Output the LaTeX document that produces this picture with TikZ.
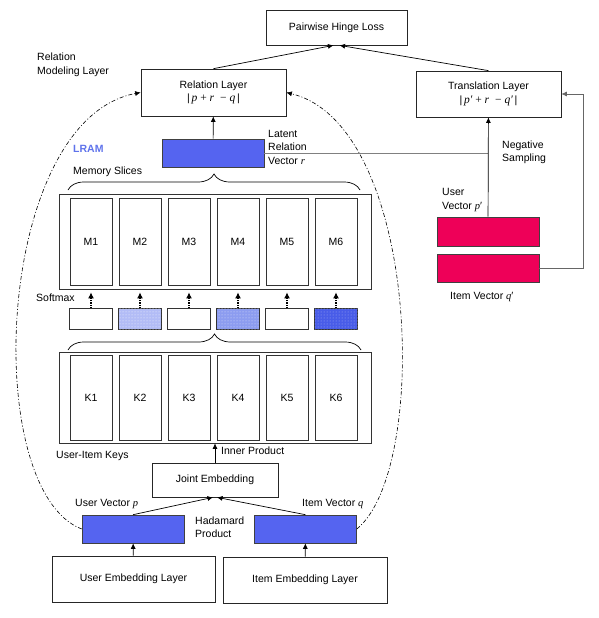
\documentclass[tikz,border=0pt]{standalone}
\usepackage{fontspec}
\setmainfont{Liberation Sans}
\newfontfamily\serifit{Liberation Serif}
\usetikzlibrary{arrows.meta,decorations.pathreplacing,patterns}
\pgfdeclarelayer{background layer}
\pgfsetlayers{background layer,main}
\definecolor{vecblue}{RGB}{85,100,240}
\definecolor{vecred}{RGB}{238,0,88}
\definecolor{lramblue}{RGB}{95,115,235}
\definecolor{wlight}{RGB}{178,188,246}
\definecolor{wmid}{RGB}{140,156,240}
\definecolor{wdark}{RGB}{72,92,232}
\tikzstyle{blk}=[draw=black!85,line width=0.7pt,fill=white,inner sep=0pt,align=center]
\tikzstyle{bluevec}=[draw=black!75,line width=0.6pt,fill=vecblue,minimum width=102pt,minimum height=28pt]
\tikzstyle{redvec}=[draw=black!75,line width=0.6pt,fill=vecred,minimum width=102pt,minimum height=28pt]
\tikzstyle{slot}=[draw=black!80,line width=0.7pt,minimum width=42pt,minimum height=87pt]
\tikzstyle{wbox}=[draw=black!80,line width=0.7pt,minimum width=43pt,minimum height=21pt]
\tikzstyle{wlow}=[wbox,fill=wlight,postaction={pattern=dots,pattern color=white!85!wlight}]
\tikzstyle{wmed}=[wbox,fill=wmid,postaction={pattern=dots,pattern color=white!70!wmid}]
\tikzstyle{whigh}=[wbox,fill=wdark,postaction={pattern=dots,pattern color=white!50!wdark}]
\tikzstyle{lbl}=[anchor=west,inner sep=0pt,align=left]
\tikzstyle{arr}=[-{Latex[length=5.5pt,width=5pt]},line width=0.7pt]
\tikzstyle{dotarr}=[-{Latex[length=6pt,width=6pt]},densely dotted,line width=1.3pt]
\tikzstyle{curly}=[decorate,decoration={brace,amplitude=16pt},line width=0.7pt]
\tikzstyle{chain}=[arr,line width=0.6pt,dash pattern=on 4pt off 2pt on 1pt off 2pt]
\newcommand{\vv}[1]{{\serifit\itshape #1}}
\newcommand{\rform}[3]{|\,{\fontsize{11.5}{13}\serifit\textit{#1} + \textit{#2}\; − \textit{#3}}\,|}

\begin{document}
\begin{tikzpicture}[x=1pt,y=-1pt,font=\fontsize{10.5}{13.5}\selectfont]
			\useasboundingbox (0,0) rectangle (599,618);
			
			\node (loss) at (336.5,27.5) [blk,minimum width=141pt,minimum height=35pt] {Pairwise Hinge Loss};
			\node (rel) at (213.5,92.5) [blk,minimum width=145pt,minimum height=47pt] {Relation Layer\\\rform{p}{r}{q}};
			\node (trans) at (488.5,94) [blk,minimum width=145pt,minimum height=46pt] {Translation Layer\\\rform{p′}{r}{q′}};
			
			\node (rvec) at (213,153) [bluevec] {};
			\node (pvec2) at (488,231.5) [redvec,minimum height=29pt] {};
			\node (qvec2) at (488,268) [redvec] {};
			
			\node (mem) at (215,241.5) [draw=black!80,line width=0.7pt,minimum width=312pt,minimum height=95pt] {};
			\foreach \i in {1,...,6}
				\node (m\i) at (42+49*\i,242) [slot] {M\i};
			
			\foreach \i/\w in {1/wbox,2/wlow,3/wbox,4/wmed,5/wbox,6/whigh} {
				\node (s\i) at (42+49*\i,319) [\w] {};
				\draw [dotarr] (s\i) -- ([yshift=-3pt]s\i |- mem.south);
			}
			
			\node (keys) at (215,397.5) [draw=black!80,line width=0.7pt,minimum width=312pt,minimum height=91pt] {};
			\foreach \i in {1,...,6}
				\node (k\i) at (42+49*\i,398) [slot,minimum height=85pt] {K\i};
			
			\node (joint) at (215,480) [blk,minimum width=126pt,minimum height=34pt] {Joint Embedding};
			\node (pvec) at (133,529) [bluevec] {};
			\node (qvec) at (305.5,529) [bluevec] {};
			\node (uemb) at (133.5,579) [blk,minimum width=163pt,minimum height=46pt] {User Embedding Layer};
			\node (iemb) at (305,580) [blk,minimum width=164pt,minimum height=46pt] {Item Embedding Layer};
			
			\node (rml) at (37,65) [lbl] {Relation\\Modeling Layer};
			\node (lram) at (73,149) [lbl,text=lramblue] {\bfseries LRAM};
			\node (ms) at (73,172) [lbl] {Memory Slices};
			\node (lrv) at (268,147) [lbl] {Latent\\Relation\\Vector \vv{r}};
			\node (neg) at (502,152.5) [lbl] {Negative\\Sampling};
			\node (upl) at (442,200) [lbl] {User\\Vector \vv{p}′};
			\node (iql) at (450,297) [lbl] {Item Vector \vv{q}′};
			\node (smx) at (36,298) [lbl] {Softmax};
			\node (uik) at (56,456) [lbl] {User-Item Keys};
			\node (inp) at (221,451) [lbl] {Inner Product};
			\node (upv) at (75,504) [lbl] {User Vector \vv{p}};
			\node (iqv) at (302,504) [lbl] {Item Vector \vv{q}};
			\node (had) at (195,527) [lbl] {Hadamard\\Product};
			
			\coordinate (ns) at (pvec2.north |- rvec.east);
			
			\draw [curly] (68,190) -- (360,190);
			\draw [curly] (68,350) -- (361,350);
			
			\draw [arr] (rel.north) -- ([xshift=-3pt]loss.south);
			\draw [arr] (trans.north) -- ([xshift=3pt]loss.south);
			\draw [arr] (rvec) -- (rel);
			\draw [gray,line width=0.7pt] (rvec.east) -- (ns);
			\draw [arr] (pvec2) -- (trans);
			\draw [arr,draw=black!60] (qvec2.east) -| ([xshift=22pt]trans.east) -- (trans.east);
			\draw [arr] (joint) -- (keys);
			\draw [arr] (pvec.north) -- ([xshift=-2pt]joint.south);
			\draw [arr] (qvec.north) -- ([xshift=2pt]joint.south);
			\draw [arr] (uemb) -- (pvec);
			\draw [arr] (iemb) -- (qvec);
			
			\begin{pgfonlayer}{background layer}
				\draw [chain] (pvec.west) .. controls (-20,490) and (-5,120) .. (rel.west);
				\draw [chain] (qvec.east) .. controls (430,470) and (420,125) .. (rel.east);
			\end{pgfonlayer}
		\end{tikzpicture}
\end{document}
